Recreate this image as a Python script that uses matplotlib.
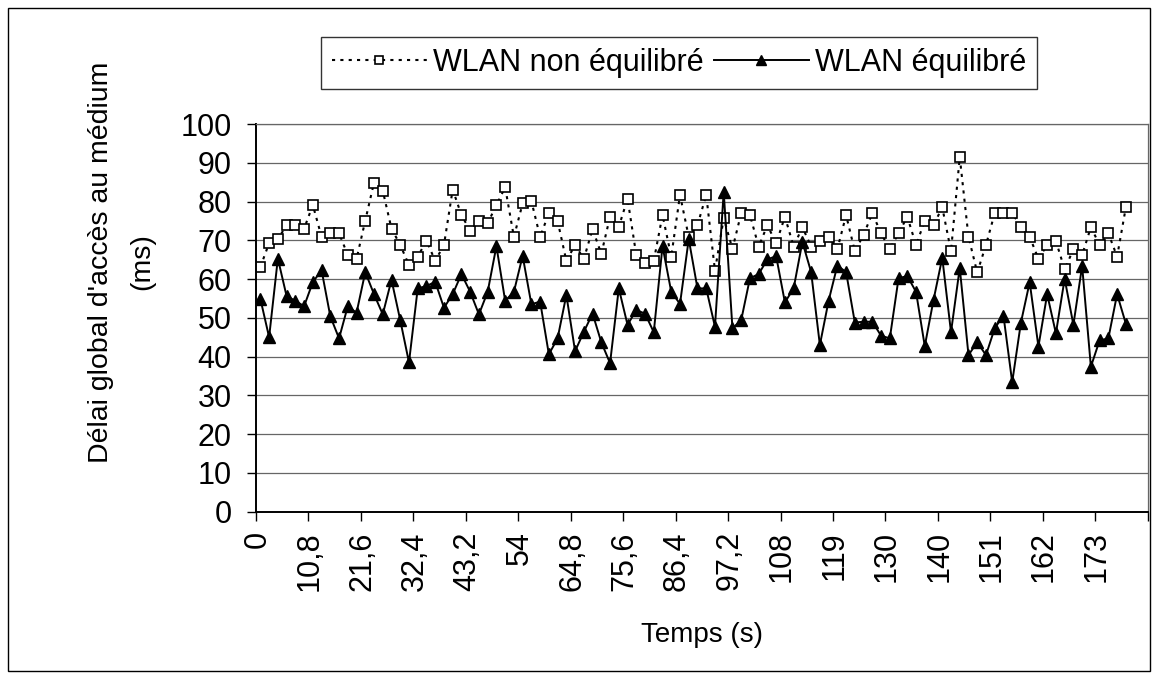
import matplotlib
matplotlib.use('Agg')
import matplotlib.pyplot as plt
from matplotlib.patches import Rectangle

plt.rcParams['font.family'] = ['Liberation Sans', 'DejaVu Sans']

# x axis: one category every 1.8 s, a label every 6 categories
tick_labels = ['0', '10,8', '21,6', '32,4', '43,2', '54', '64,8', '75,6', '86,4',
               '97,2', '108', '119', '130', '140', '151', '162', '173']
n_categories = 102

# Délai global d'accès au médium (ms)
non_equilibre = [63.1, 69.3, 70.3, 73.9, 73.9, 73.0, 79.1, 70.9, 71.9, 71.8,
                 66.2, 65.2, 75.1, 84.9, 82.8, 73.0, 68.8, 63.6, 65.8, 69.9,
                 64.7, 68.8, 83.1, 76.5, 72.5, 75.0, 74.4, 79.1, 83.7, 70.9,
                 79.5, 80.1, 70.9, 77.0, 75.0, 64.7, 68.8, 65.2, 72.9, 66.5,
                 76.1, 73.5, 80.7, 66.2, 64.2, 64.7, 76.5, 65.8, 81.7, 70.9,
                 73.9, 81.7, 62.2, 75.7, 67.8, 77.0, 76.5, 68.4, 73.9, 69.2,
                 76.1, 68.4, 73.4, 68.4, 69.9, 70.9, 67.7, 76.5, 67.2, 71.4,
                 77.0, 71.8, 67.7, 71.8, 76.1, 68.8, 75.0, 73.9, 78.5, 67.2,
                 91.5, 70.9, 61.7, 68.8, 77.0, 77.0, 77.0, 73.5, 70.9, 65.2,
                 68.8, 69.8, 62.5, 67.7, 66.2, 73.4, 68.8, 71.8, 65.8, 78.5]
equilibre = [54.9, 45.0, 65.3, 55.6, 54.4, 53.0, 59.2, 62.3, 50.4, 44.7,
             53.0, 51.3, 61.8, 56.1, 50.9, 59.8, 49.4, 38.5, 57.6, 58.2,
             59.3, 52.6, 56.1, 61.3, 56.7, 50.9, 56.7, 68.5, 54.4, 56.7,
             66.0, 53.5, 54.2, 40.6, 44.7, 55.9, 41.4, 46.4, 51.1, 43.7,
             38.3, 57.6, 48.2, 52.0, 51.1, 46.3, 68.5, 56.7, 53.6, 70.3,
             57.6, 57.6, 47.7, 82.5, 47.3, 49.4, 60.2, 61.3, 65.1, 65.9,
             54.0, 57.6, 69.6, 61.8, 43.0, 54.4, 63.5, 61.8, 48.8, 49.0,
             49.0, 45.4, 44.7, 60.2, 60.8, 56.7, 42.7, 54.6, 65.5, 46.3,
             62.9, 40.4, 43.7, 40.4, 47.3, 50.6, 33.4, 48.8, 59.2, 42.6,
             56.1, 46.0, 60.1, 48.2, 63.4, 37.4, 44.2, 44.7, 56.1, 48.5]

W, H = 1158, 679
fig = plt.figure(figsize=(W / 100, H / 100), dpi=100)
ax = fig.add_axes([256 / W, 1 - 511.7 / H, 891.7 / W, 387.7 / H])

x = list(range(len(non_equilibre)))
l1, = ax.plot(x, non_equilibre, linestyle=(0, (1.5, 2.5)), color='black', lw=1.5,
              marker='s', ms=6.5, mfc='white', mec='black', mew=1.2,
              label='WLAN non équilibré')
l2, = ax.plot(x, equilibre, '-', color='black', lw=1.4,
              marker='^', ms=9, mfc='black', mec='black', mew=1,
              label='WLAN équilibré')

ax.set_xlim(-0.5, n_categories - 0.5)
ax.set_ylim(0, 100)
ax.set_yticks(range(0, 101, 10))
ax.yaxis.grid(True, color='#666666', lw=0.9)
ax.set_axisbelow(True)

# tick marks between groups of 6 categories, labels under first category of group
ax.set_xticks([6 * k - 0.5 for k in range(18)])
ax.set_xticklabels([])
ax.set_xticks([6 * k - 0.35 for k in range(len(tick_labels))], minor=True)
ax.set_xticklabels(tick_labels, minor=True, rotation=90)
ax.tick_params(axis='x', which='major', direction='out', length=6.5, width=1)
ax.tick_params(axis='x', which='minor', length=0, pad=14, labelsize=22)
ax.tick_params(axis='y', direction='out', length=6.5, width=1, pad=11, labelsize=22)

for side in ['left', 'bottom']:
    ax.spines[side].set_color('black')
    ax.spines[side].set_linewidth(1.4)
for side in ['top', 'right']:
    ax.spines[side].set_color('#666666')
    ax.spines[side].set_linewidth(0.9)

leg = fig.legend(handles=[l1, l2], loc='center', bbox_to_anchor=(679 / W, 1 - 63 / H),
                 ncol=2, fontsize=22, frameon=True, fancybox=False, edgecolor='black',
                 handlelength=3.1, handletextpad=0.2, columnspacing=0.35,
                 borderpad=0.35, markerscale=0.8)
leg.get_frame().set_linewidth(1.0)

fig.text(101 / W, 1 - 262 / H, "Délai global d'accès au médium", rotation=90,
         ha='center', va='center', fontsize=20.5)
fig.text(142 / W, 1 - 262 / H, "(ms)", rotation=90, ha='center', va='center', fontsize=20.5)
fig.text(702 / W, 1 - 635 / H, 'Temps (s)', ha='center', va='center', fontsize=20)

fig.patches.append(Rectangle((8 / W, 8 / H), 1142 / W, 663 / H, transform=fig.transFigure,
                             fill=False, edgecolor='black', lw=1))

fig.savefig('out.png', dpi=100)
